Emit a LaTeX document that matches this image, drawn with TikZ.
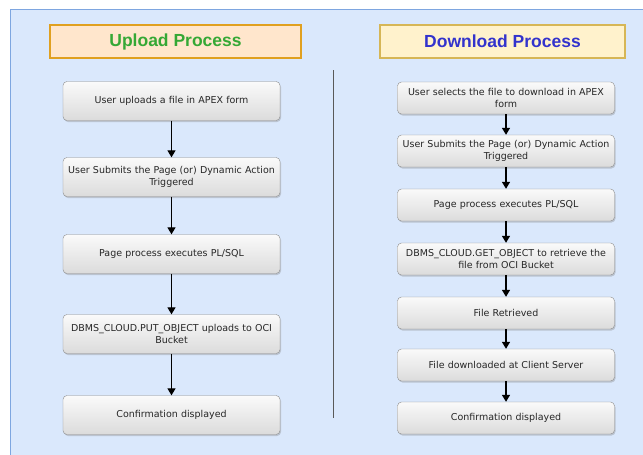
\documentclass[tikz,border=0pt]{standalone}
\usepackage{fontspec}
\setmainfont{DejaVu Sans}
\newfontfamily\headfont{Liberation Sans}
\usetikzlibrary{shadows,arrows.meta}

\definecolor{bgblue}{HTML}{DAE8FC}
\definecolor{bgline}{HTML}{7EA6E0}
\definecolor{upfill}{HTML}{FFE6CC}
\definecolor{upline}{HTML}{E0A020}
\definecolor{upgreen}{HTML}{35A835}
\definecolor{downfill}{HTML}{FFF2CC}
\definecolor{downline}{HTML}{D6B656}
\definecolor{downblue}{HTML}{3333CC}
\definecolor{boxline}{HTML}{8C8C8C}
\definecolor{boxtext}{HTML}{262626}

\tikzset{
  stepbox/.style={draw=boxline, rounded corners=4pt, top color=white!96!gray, bottom color=gray!28,
    drop shadow={opacity=0.35, shadow xshift=1pt, shadow yshift=-1.5pt},
    text width=215pt, inner xsep=1pt, inner ysep=0pt, align=center, text=boxtext,
    font=\fontsize{9.5}{12.5}\selectfont},
  headbox/.style={line width=1.6pt, minimum height=33pt, font=\headfont\bfseries\fontsize{17.5}{20}\selectfont},
  flow/.style={-{Triangle[width=8pt,length=7pt]}, line width=1.3pt, black}
}

\begin{document}
\begin{tikzpicture}[x=1pt,y=-1pt]
\useasboundingbox (0,0) rectangle (643,455);
\fill[white] (0,0) rectangle (643,455);
\filldraw[fill=bgblue, draw=bgline, line width=0.8pt] (10,9) rectangle (650,462);

% headings
\node[headbox, fill=upfill, draw=upline, text=upgreen, minimum width=251pt] (uphead) at (175.5,41.5) {Upload Process};
\node[headbox, fill=downfill, draw=downline, text=downblue, minimum width=245pt] (downhead) at (502.5,41.5) {Download Process};

% upload steps
\begin{scope}[every node/.style={stepbox, minimum height=39pt}]
  \node (u1) at (171.5,101) {User uploads a file in APEX form};
  \node (u2) at (171.5,177) {User Submits the Page (or) Dynamic Action\\Triggered};
  \node (u3) at (171.5,254) {Page process executes PL/SQL};
  \node (u4) at (171.5,334) {DBMS\_CLOUD.PUT\_OBJECT uploads to OCI\\Bucket};
  \node (u5) at (171.5,415) {Confirmation displayed};
\end{scope}

% download steps
\begin{scope}[every node/.style={stepbox, minimum height=32pt}]
  \node (d1) at (506,98) {User selects the file to download in APEX\\form};
  \node (d2) at (506,151) {User Submits the Page (or) Dynamic Action\\Triggered};
  \node (d3) at (506,205) {Page process executes PL/SQL};
  \node (d4) at (506,259) {DBMS\_CLOUD.GET\_OBJECT to retrieve the\\file from OCI Bucket};
  \node (d5) at (506,313) {File Retrieved};
  \node (d6) at (506,365) {File downloaded at Client Server};
  \node (d7) at (506,418) {Confirmation displayed};
\end{scope}

% divider
\coordinate (divtop) at (333,70);
\coordinate (divbot) at (333,418);
\draw[gray!70!black, line width=0.8pt] (divtop) -- (divbot);

\foreach \a/\b in {u1/u2,u2/u3,u3/u4,u4/u5,d1/d2,d2/d3,d3/d4,d4/d5,d5/d6,d6/d7}
  \draw[flow] (\a) -- (\b);
\end{tikzpicture}
\end{document}
